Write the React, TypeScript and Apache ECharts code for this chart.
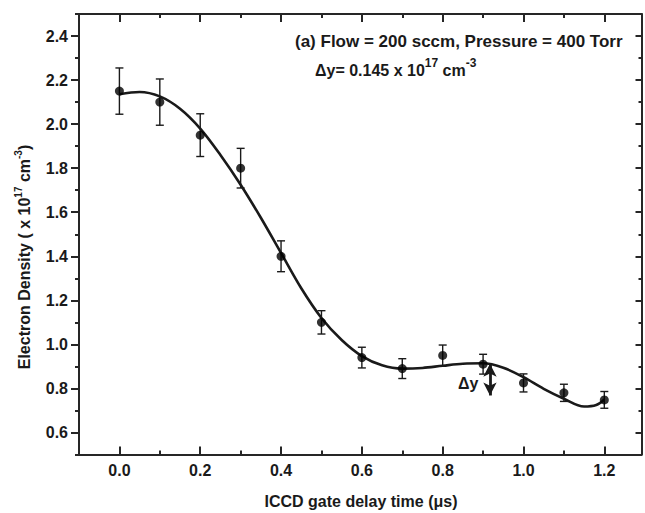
import React, { useEffect, useRef } from "react";
import * as echarts from "echarts";

// ---- data ----
const delayTimes = [0, 0.1, 0.2, 0.3, 0.4, 0.5, 0.6, 0.7, 0.8, 0.9, 1.0, 1.1, 1.2];
const density = [2.15, 2.1, 1.95, 1.8, 1.4, 1.1, 0.94, 0.89, 0.95, 0.91, 0.825, 0.78, 0.748];
const densityError = [0.105, 0.105, 0.097, 0.09, 0.07, 0.053, 0.047, 0.045, 0.047, 0.045, 0.041, 0.039, 0.038];

const fitX = [0, 0.05, 0.1, 0.15, 0.2, 0.25, 0.3, 0.35, 0.4, 0.45, 0.5, 0.55, 0.6, 0.65, 0.7, 0.75, 0.8, 0.85, 0.9, 0.95, 1.0, 1.05, 1.1, 1.15, 1.18, 1.2];
const fitY = [2.136, 2.146, 2.126, 2.07, 1.98, 1.86, 1.725, 1.575, 1.415, 1.255, 1.12, 1.02, 0.947, 0.905, 0.89, 0.893, 0.903, 0.912, 0.914, 0.894, 0.851, 0.798, 0.753, 0.718, 0.725, 0.75];

const xMajorTicks = [0, 0.2, 0.4, 0.6, 0.8, 1.0, 1.2];
const xMinorTicks = [-0.1, 0.1, 0.3, 0.5, 0.7, 0.9, 1.1];
const yMajorTicks = [0.6, 0.8, 1.0, 1.2, 1.4, 1.6, 1.8, 2.0, 2.2, 2.4];
const yMinorTicks = [0.5, 0.7, 0.9, 1.1, 1.3, 1.5, 1.7, 1.9, 2.1, 2.3, 2.5];

const deltaArrowX = 0.917;
const deltaArrowTop = 0.912;
const deltaArrowBottom = 0.768;
const deltaLabelPos = [0.863, 0.824];

const titleLine1 = "(a) Flow = 200 sccm, Pressure = 400 Torr";
const xAxisTitle = "ICCD gate delay time (\u03bcs)";

const FONT = "'Liberation Sans', Arial, Helvetica, sans-serif";
const INK = "#1a1a1a";
const FRAME = "#262626";

export default function App() {
  const ref = useRef<HTMLDivElement>(null);

  useEffect(() => {
    if (!ref.current) return;
    const chart = echarts.init(ref.current, null, { renderer: "svg" });

    const X_MIN = -0.1;
    const X_MAX = 1.292;
    const Y_MIN = 0.5;
    const Y_MAX = 2.5;

    const labelStyle = {
      fontFamily: FONT,
      fontWeight: "bold" as const,
      fontSize: 16,
      color: INK,
    };

    const makeX = (pos: "top" | "bottom", ticks: number[], len: number, line: boolean, labels: boolean) => ({
      type: "value",
      position: pos,
      min: X_MIN,
      max: X_MAX,
      gridIndex: 0,
      axisLine: { show: line, onZero: false, lineStyle: { color: FRAME, width: 2 } },
      axisTick: { show: true, inside: true, length: len, customValues: ticks, lineStyle: { color: FRAME, width: 2 } },
      axisLabel: labels
        ? { show: true, margin: 8, customValues: ticks, formatter: (v: number) => v.toFixed(1), ...labelStyle }
        : { show: false },
      splitLine: { show: false },
    });

    const makeY = (pos: "left" | "right", ticks: number[], len: number, inside: boolean, line: boolean, labels: boolean) => ({
      type: "value",
      position: pos,
      min: Y_MIN,
      max: Y_MAX,
      gridIndex: 0,
      axisLine: { show: line, onZero: false, lineStyle: { color: FRAME, width: 2 } },
      axisTick: { show: true, inside, length: len, customValues: ticks, lineStyle: { color: FRAME, width: 2 } },
      axisLabel: labels
        ? { show: true, margin: 11, customValues: ticks, formatter: (v: number) => v.toFixed(1), ...labelStyle }
        : { show: false },
      splitLine: { show: false },
    });

    const points = delayTimes.map((x, i) => [x, density[i]]);
    const errorData = delayTimes.map((x, i) => [x, density[i] - densityError[i], density[i] + densityError[i]]);
    const fitData = fitX.map((x, i) => [x, fitY[i]]);

    const staticGraphics: any[] = [
      {
        type: "text",
        x: 295,
        y: 41,
        style: {
          text: titleLine1,
          fontFamily: FONT,
          fontWeight: "bold",
          fontSize: 17,
          fill: INK,
          align: "left",
          verticalAlign: "middle",
        },
      },
      {
        type: "text",
        x: 315,
        y: 70,
        style: {
          text: "{n|\u0394y= 0.145 x 10}{s|17}{n| cm}{s|-3}",
          fill: INK,
          align: "left",
          verticalAlign: "middle",
          rich: {
            n: { fontFamily: FONT, fontWeight: "bold", fontSize: 16, fill: INK },
            s: { fontFamily: FONT, fontWeight: "bold", fontSize: 12, fill: INK, padding: [0, 0, 14, 0] },
          },
        },
      },
      {
        type: "text",
        x: 361,
        y: 501,
        style: {
          text: xAxisTitle,
          fontFamily: FONT,
          fontWeight: "bold",
          fontSize: 16,
          fill: INK,
          align: "center",
          verticalAlign: "middle",
        },
      },
      {
        type: "text",
        x: 24,
        y: 257,
        rotation: Math.PI / 2,
        style: {
          text: "{n|Electron Density ( x 10}{s|17}{n| cm}{s|-3}{n|)}",
          fill: INK,
          align: "center",
          verticalAlign: "middle",
          rich: {
            n: { fontFamily: FONT, fontWeight: "bold", fontSize: 16, fill: INK },
            s: { fontFamily: FONT, fontWeight: "bold", fontSize: 10, fill: INK, padding: [0, 0, 12, 0] },
          },
        },
      },
    ];

    chart.setOption({
      animation: false,
      backgroundColor: "#ffffff",
      grid: { left: 79, top: 14, right: 3.5, bottom: 58.5, containLabel: false },
      xAxis: [
        makeX("bottom", xMajorTicks, 8, true, true),
        makeX("bottom", xMinorTicks, 4, false, false),
        makeX("top", xMajorTicks, 8, true, false),
        makeX("top", xMinorTicks, 4, false, false),
      ],
      yAxis: [
        makeY("left", yMajorTicks, 8, false, true, true),
        makeY("left", yMinorTicks, 4, false, false, false),
        makeY("right", yMajorTicks, 6, true, true, false),
        makeY("right", yMinorTicks, 3, true, false, false),
      ],
      series: [
        {
          type: "custom",
          name: "error",
          xAxisIndex: 0,
          yAxisIndex: 0,
          encode: { x: 0, y: [1, 2] },
          data: errorData,
          silent: true,
          z: 3,
          renderItem: (params: any, api: any) => {
            const x = api.value(0);
            const lo = api.value(1);
            const hi = api.value(2);
            const pHi = api.coord([x, hi]);
            const pLo = api.coord([x, lo]);
            const w = 4;
            const st = { stroke: INK, lineWidth: 1.4 };
            return {
              type: "group",
              children: [
                { type: "line", shape: { x1: pHi[0], y1: pHi[1], x2: pLo[0], y2: pLo[1] }, style: st },
                { type: "line", shape: { x1: pHi[0] - w, y1: pHi[1], x2: pHi[0] + w, y2: pHi[1] }, style: st },
                { type: "line", shape: { x1: pLo[0] - w, y1: pLo[1], x2: pLo[0] + w, y2: pLo[1] }, style: st },
              ],
            };
          },
        },
        {
          type: "line",
          name: "fit",
          xAxisIndex: 0,
          yAxisIndex: 0,
          data: fitData,
          smooth: 0.35,
          showSymbol: false,
          symbol: "none",
          silent: true,
          z: 2,
          lineStyle: { color: INK, width: 2.6 },
          markLine: {
            silent: true,
            symbol: ["arrow", "arrow"],
            symbolSize: [10, 13],
            label: { show: false },
            lineStyle: { color: INK, width: 2.8, type: "solid", opacity: 1 },
            emphasis: { disabled: true },
            data: [[{ coord: [deltaArrowX, deltaArrowTop] }, { coord: [deltaArrowX, deltaArrowBottom] }]],
          },
        },
        {
          type: "scatter",
          name: "data",
          xAxisIndex: 0,
          yAxisIndex: 0,
          data: points,
          symbol: "circle",
          symbolSize: 9,
          itemStyle: { color: "#000" },
          silent: true,
          z: 4,
        },
      ],
      graphic: staticGraphics,
    });

    // place the "Δy" label at its data position through the chart's own scales
    const p = chart.convertToPixel({ xAxisIndex: 0, yAxisIndex: 0 }, deltaLabelPos) as number[];
    chart.setOption({
      graphic: [
        ...staticGraphics,
        {
          type: "text",
          x: p[0],
          y: p[1],
          style: {
            text: "\u0394y",
            fontFamily: FONT,
            fontWeight: "bold",
            fontSize: 16,
            fill: INK,
            align: "center",
            verticalAlign: "middle",
          },
        },
      ],
    });

    return () => chart.dispose();
  }, []);

  return (
    <div
      ref={ref}
      style={{ position: "absolute", left: 0, top: 0, width: 645, height: 513, background: "#fff" }}
    />
  );
}
